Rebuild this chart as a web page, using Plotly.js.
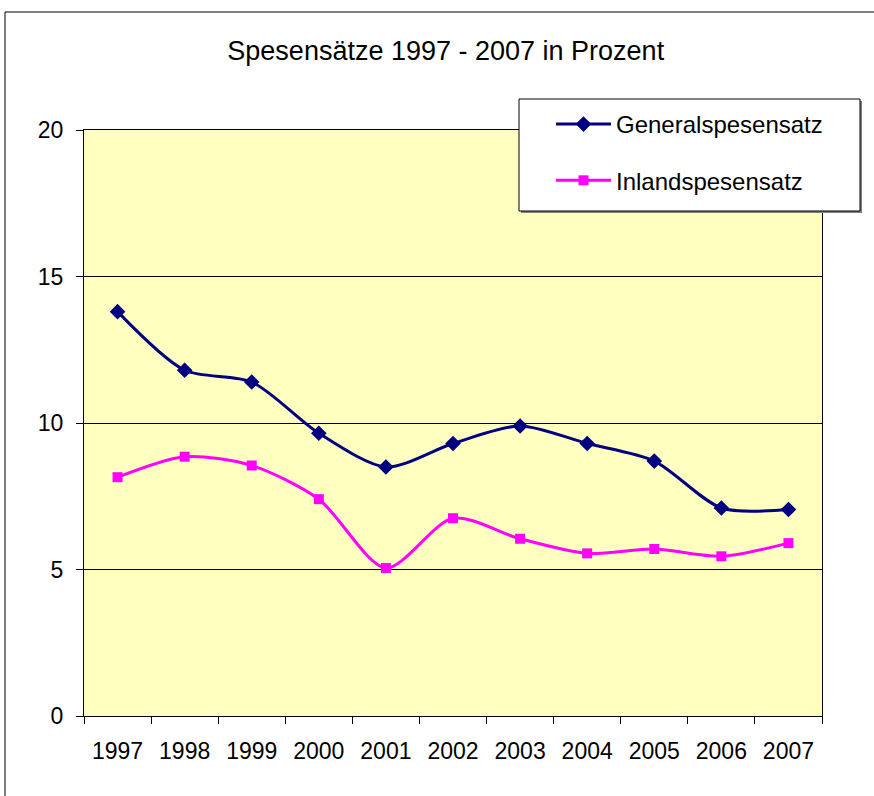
<!DOCTYPE html>
<html>
<head>
<meta charset="utf-8">
<script src="https://cdn.plot.ly/plotly-3.0.1.min.js"></script>
<style>
html, body { margin:0; padding:0; background:#fff; }
#chart { width:874px; height:796px; }
</style>
</head>
<body>
<div id="chart"></div>
<script>
const years = ["1997","1998","1999","2000","2001","2002","2003","2004","2005","2006","2007"];
const generalspesensatz = [13.8, 11.8, 11.4, 9.65, 8.5, 9.3, 9.9, 9.3, 8.7, 7.1, 7.05];
const inlandspesensatz = [8.15, 8.85, 8.55, 7.4, 5.05, 6.75, 6.05, 5.55, 5.7, 5.45, 5.9];
const yTicks = [0, 5, 10, 15, 20];

const FONT = "Liberation Sans, Arial, sans-serif";

// plot-area geometry in pixels (for decorative frame / legend box)
const PL = 84, PR = 822, PT = 130, PB = 716;
const px2x = p => (p - PL) / (PR - PL);
const px2y = p => 1 - (p - PT) / (PB - PT);

const traces = [
  {
    x: years, y: generalspesensatz, name: "Generalspesensatz",
    type: "scatter", mode: "lines+markers",
    line: {color: "#000080", width: 3, shape: "spline", smoothing: 0.8},
    marker: {symbol: "diamond", size: 12, color: "#000080"},
    legendgroup: "g1"
  },
  {
    x: years, y: inlandspesensatz, name: "Inlandspesensatz",
    type: "scatter", mode: "lines+markers",
    line: {color: "#FF00FF", width: 3, shape: "spline", smoothing: 0.8},
    marker: {symbol: "square", size: 10, color: "#FF00FF"},
    legendgroup: "g2"
  }
];

const layout = {
  width: 874, height: 796,
  margin: {l: PL, r: 874 - PR, t: PT, b: 796 - PB},
  paper_bgcolor: "#ffffff",
  plot_bgcolor: "#FFFFC0",
  font: {family: FONT, size: 23, color: "#000"},
  title: {text: "Spesensätze 1997 - 2007 in Prozent", font: {family: FONT, size: 27, color: "#000"},
          x: 0.51, xanchor: "center", y: 0.937, yanchor: "middle"},
  xaxis: {
    type: "category", range: [-0.5, 10.5], tickson: "boundaries", ticks: "outside", ticklen: 7, tickcolor: "#000",
    showline: true, linecolor: "#000", linewidth: 1, mirror: true,
    showgrid: false, zeroline: false, tickfont: {family: FONT, size: 23},
    ticklabelstandoff: 14, fixedrange: true
  },
  yaxis: {
    range: [0, 20], tickvals: yTicks, ticktext: yTicks.map(String),
    ticks: "outside", ticklen: 7, tickcolor: "#000",
    showline: true, linecolor: "#000", linewidth: 1, mirror: true,
    showgrid: true, gridcolor: "#000", gridwidth: 1, zeroline: false,
    tickfont: {family: FONT, size: 23}, ticklabelstandoff: 8, fixedrange: true
  },
  showlegend: true,
  legend: {
    x: px2x(519), y: px2y(102), xanchor: "left", yanchor: "top",
    bgcolor: "rgba(0,0,0,0)", borderwidth: 0,
    font: {family: FONT, size: 24, color: "#000"},
    traceorder: "grouped", tracegroupgap: 22,
    itemwidth: 55, indentation: 32, entrywidth: 300
  },
  shapes: [
    {type: "rect", xref: "paper", yref: "paper",
     x0: px2x(5), x1: 2, y0: -1, y1: px2y(12),
     line: {color: "#000", width: 1}, fillcolor: "rgba(0,0,0,0)", layer: "below"},
    {type: "rect", xref: "paper", yref: "paper",
     x0: px2x(521), x1: px2x(862), y0: px2y(213), y1: px2y(101),
     line: {width: 0}, fillcolor: "#808080", layer: "above"},
    {type: "rect", xref: "paper", yref: "paper",
     x0: px2x(519), x1: px2x(860), y0: px2y(211), y1: px2y(99),
     line: {color: "#000", width: 1}, fillcolor: "#ffffff", layer: "above"}
  ]
};

Plotly.newPlot("chart", traces, layout, {displayModeBar: false, staticPlot: true});
</script>
</body>
</html>
